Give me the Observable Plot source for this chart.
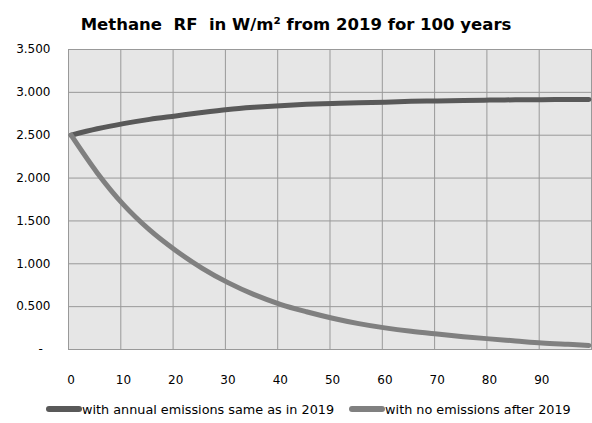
<!DOCTYPE html>
<html>
<head>
<meta charset="utf-8">
<script src="https://cdn.jsdelivr.net/npm/d3@7"></script>
<script src="https://cdn.jsdelivr.net/npm/@observablehq/plot@0.6"></script>
<style>
  html, body { margin: 0; padding: 0; background: #fff; }
  body { width: 592px; height: 423px; overflow: hidden; font-family: "DejaVu Sans", sans-serif; }
  #title { height: 40px; line-height: 49px; text-align: center; font-weight: bold; font-size: 16.5px; color: #000; white-space: pre; }
  #legend { display: flex; align-items: center; padding-left: 46px; height: 24px; margin-top: 3px; font-size: 12.8px; color: #000; }
  .sw { display: inline-block; width: 36px; height: 6px; border-radius: 3px; }
  .item { display: flex; align-items: center; }
</style>
</head>
<body>
<div id="title">Methane  RF  in W/m² from 2019 for 100 years</div>
<div id="chart"></div>
<div id="legend"></div>
<script>
// Data
const years = [0, 5, 10, 15, 20, 25, 30, 35, 40, 45, 50, 55, 60, 65, 70, 75, 80, 85, 90, 95, 99];
const sameEmissions = [2.500, 2.575, 2.635, 2.685, 2.725, 2.765, 2.800, 2.825, 2.845, 2.860, 2.870, 2.880, 2.885, 2.895, 2.900, 2.905, 2.910, 2.913, 2.915, 2.917, 2.918];
const noEmissions = [2.500, 2.060, 1.690, 1.395, 1.155, 0.950, 0.780, 0.640, 0.527, 0.440, 0.365, 0.302, 0.252, 0.212, 0.180, 0.150, 0.124, 0.100, 0.076, 0.060, 0.048];
const seriesNames = ["with annual emissions same as in 2019", "with no emissions after 2019"];
const seriesColors = ["#595959", "#808080"];
const xTickLabels = [0, 10, 20, 30, 40, 50, 60, 70, 80, 90];
const yTicks = [0, 0.5, 1, 1.5, 2, 2.5, 3, 3.5];

const rows = [];
years.forEach((y, i) => {
  rows.push({year: y, value: sameEmissions[i], series: seriesNames[0]});
  rows.push({year: y, value: noEmissions[i], series: seriesNames[1]});
});
// category boundaries (Excel category axis, between tick marks)
const xGrid = xTickLabels.slice(1).map(d => d - 0.5);

const fmt = d => d === 0 ? "-\u2007" : d3.format(".3f")(d);

const chart = Plot.plot({
  width: 592,
  height: 354,
  marginTop: 9,
  marginBottom: 45,
  marginLeft: 68,
  marginRight: 1,
  style: {fontFamily: "DejaVu Sans, sans-serif", fontSize: "12px", color: "#000", background: "transparent"},
  x: {domain: [-0.5, 99.5], label: null},
  y: {domain: [0, 3.5], label: null},
  color: {domain: seriesNames, range: seriesColors},
  marks: [
    Plot.frame({fill: "#e6e6e6", stroke: null}),
    Plot.gridY(yTicks, {stroke: "#999", strokeOpacity: 1, strokeWidth: 1}),
    Plot.gridX(xGrid, {stroke: "#999", strokeOpacity: 1, strokeWidth: 1}),
    Plot.frame({stroke: "#999", strokeWidth: 1}),
    Plot.axisY(yTicks, {tickSize: 0, tickPadding: 18, tickFormat: fmt, fontSize: 12, label: null}),
    Plot.axisX(xTickLabels, {tickSize: 0, tickPadding: 26, fontSize: 12, label: null}),
    Plot.line(rows, {x: "year", y: "value", z: "series", stroke: "series", strokeWidth: 5, curve: "monotone-x", strokeLinecap: "round", strokeLinejoin: "round"})
  ]
});
document.getElementById("chart").appendChild(chart);

const legend = document.getElementById("legend");
seriesNames.forEach((name, i) => {
  const item = document.createElement("span");
  item.className = "item";
  if (i > 0) item.style.marginLeft = "15px";
  const sw = document.createElement("span");
  sw.className = "sw";
  sw.style.background = seriesColors[i];
  const t = document.createElement("span");
  t.textContent = name;
  item.appendChild(sw);
  item.appendChild(t);
  legend.appendChild(item);
});
</script>
</body>
</html>
